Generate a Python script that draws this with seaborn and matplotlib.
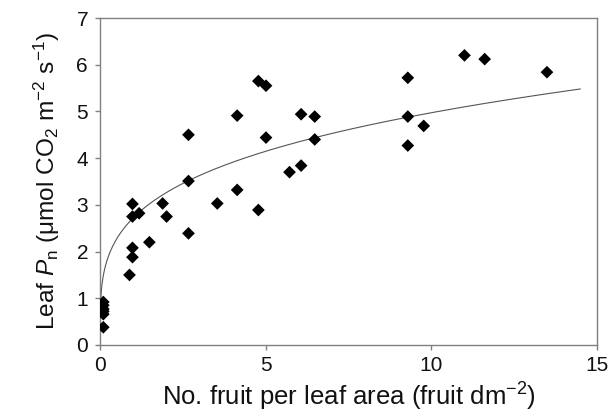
import numpy as np
import pandas as pd
import matplotlib
matplotlib.use("Agg")
import matplotlib.pyplot as plt
import seaborn as sns

# Data
fruit_per_area = [0.10, 0.10, 0.10, 0.10, 0.10, 0.10,
                  0.89, 0.98, 0.98, 0.98, 0.98, 1.18, 1.49, 1.89, 2.01,
                  2.67, 2.67, 2.67, 3.54, 4.14, 4.14, 4.78, 5.01, 5.01,
                  4.78, 5.72, 6.07, 6.07, 6.48, 6.48,
                  9.29, 9.29, 9.29, 9.77, 11.0, 11.61, 13.49]
leaf_pn = [0.38, 0.66, 0.72, 0.77, 0.85, 0.92,
           1.50, 1.88, 2.08, 2.75, 3.02, 2.82, 2.20, 3.03, 2.75,
           2.39, 3.51, 4.50, 3.03, 3.32, 4.91, 5.65, 5.55, 4.44,
           2.89, 3.70, 3.84, 4.94, 4.89, 4.40,
           5.72, 4.89, 4.27, 4.69, 6.20, 6.12, 5.84]

# Power trendline y = a * x^b (coefficients)
fit_a = 2.72
fit_b = 0.262
fit_x_start = 0.02
fit_x_end = 14.5

x_ticks = [0, 5, 10, 15]
y_ticks = [0, 1, 2, 3, 4, 5, 6, 7]

sns.set_theme(style="ticks")
plt.rcParams['font.family'] = ['Liberation Sans', 'DejaVu Sans']
plt.rcParams['mathtext.fontset'] = 'custom'
plt.rcParams['mathtext.rm'] = 'Liberation Sans'
plt.rcParams['mathtext.it'] = 'Liberation Sans:italic'

df = pd.DataFrame({"x": fruit_per_area, "y": leaf_pn})
fit_xs = np.linspace(fit_x_start, fit_x_end, 400)
fit_df = pd.DataFrame({"x": fit_xs, "y": fit_a * fit_xs ** fit_b})

fig = plt.figure(figsize=(6.13, 4.13), dpi=100)
ax = fig.add_axes([100 / 613, 1 - 345 / 413, 497 / 613, 327 / 413])

sns.lineplot(data=fit_df, x="x", y="y", ax=ax, color="#555555", linewidth=0.8)
sns.scatterplot(data=df, x="x", y="y", ax=ax, marker="D", s=42,
                color="black", edgecolor="none", zorder=3)

ax.set_xlim(0, 15)
ax.set_ylim(0, 7)
ax.set_xticks(x_ticks)
ax.set_yticks(y_ticks)
ax.tick_params(axis="both", labelsize=15, length=3.6, width=1, color="#808080",
               direction="out", labelcolor="#111111")
ax.tick_params(axis="x", pad=4)
ax.tick_params(axis="y", pad=5)

for sp in ax.spines.values():
    sp.set_visible(True)
    sp.set_color("#808080")
    sp.set_linewidth(1.0)

ax.set_xlabel(r"No. fruit per leaf area (fruit dm$^{-2}$)", fontsize=18.5,
              color="#111111")
ax.set_ylabel(r"Leaf $P_\mathrm{n}$ ($\mathrm{\mu}$mol CO$_2$ m$^{-2}$ s$^{-1}$)",
              fontsize=17.6, color="#111111")
ax.xaxis.set_label_coords(0.5, (345 - 381) / 327)
ax.yaxis.set_label_coords((62 - 100) / 497, 0.5)

fig.savefig("out.png", dpi=100)
